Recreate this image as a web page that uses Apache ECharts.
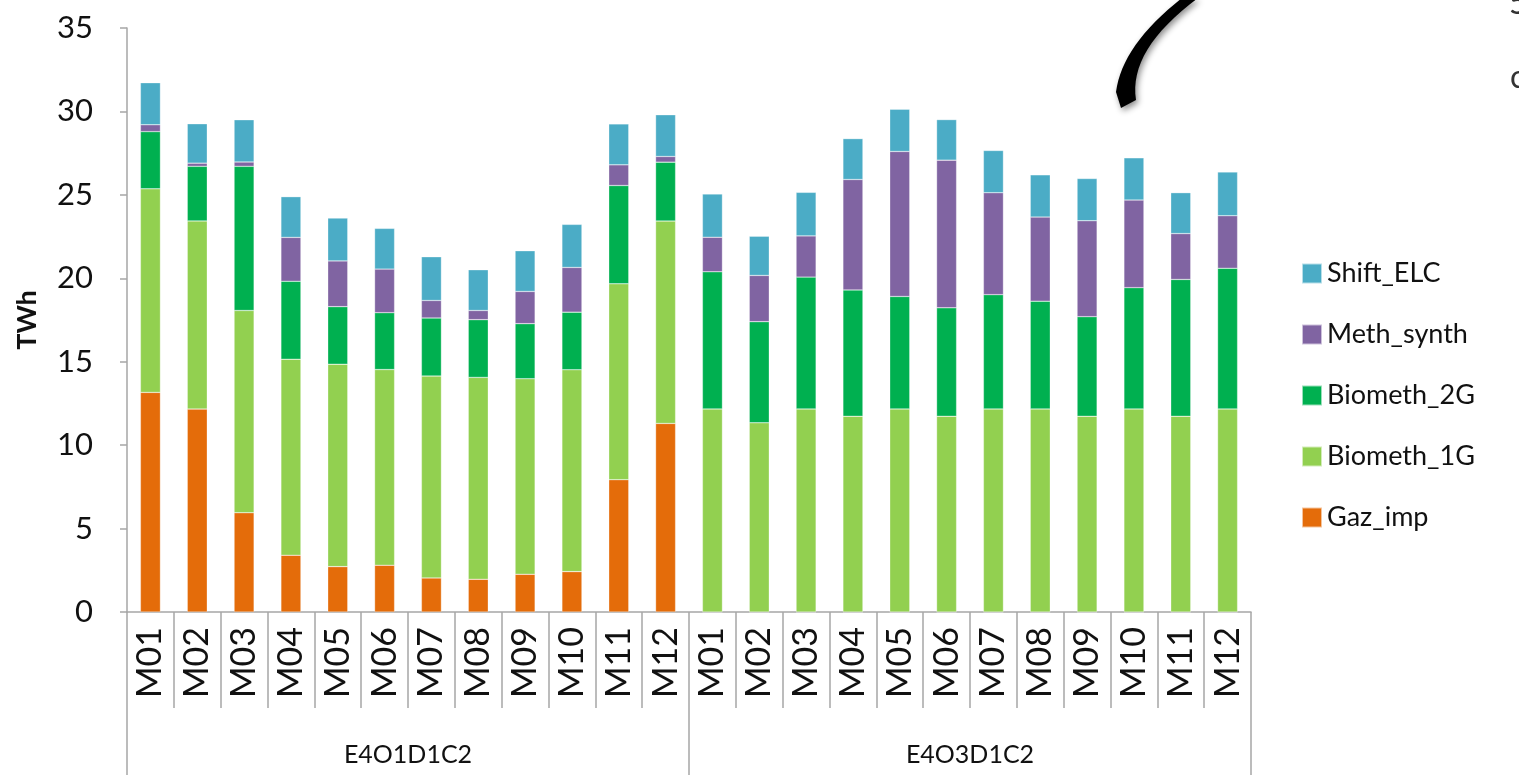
<!DOCTYPE html>
<html>
<head>
<meta charset="utf-8">
<script src="https://cdn.jsdelivr.net/npm/echarts@6/dist/echarts.min.js"></script>
<style>
  html, body { margin: 0; padding: 0; background: #fff; }
  #main { width: 1519px; height: 775px; }
</style>
</head>
<body>
<div id="main"></div>
<script>
// 数据
var months = ['M01','M02','M03','M04','M05','M06','M07','M08','M09','M10','M11','M12',
              'M01','M02','M03','M04','M05','M06','M07','M08','M09','M10','M11','M12'];
var groups = ['E4O1D1C2', 'E4O3D1C2'];
var yTicks = [0, 35, 5]; // min, max, interval

var gazImp = [13.16, 12.16, 5.95, 3.40, 2.72, 2.80, 2.04, 1.96, 2.26, 2.42, 7.93, 11.30,
              0, 0, 0, 0, 0, 0, 0, 0, 0, 0, 0, 0];
var biometh1G = [12.20, 11.28, 12.12, 11.75, 12.13, 11.73, 12.10, 12.10, 11.72, 12.10, 11.74, 12.13,
                 12.17, 11.34, 12.17, 11.73, 12.17, 11.73, 12.17, 12.17, 11.73, 12.17, 11.73, 12.17];
var biometh2G = [3.43, 3.27, 8.64, 4.67, 3.45, 3.41, 3.48, 3.46, 3.30, 3.45, 5.89, 3.53,
                 8.22, 6.06, 7.90, 7.57, 6.74, 6.50, 6.85, 6.46, 5.97, 7.27, 8.20, 8.43];
var methSynth = [0.41, 0.19, 0.26, 2.63, 2.74, 2.61, 1.05, 0.55, 1.93, 2.68, 1.24, 0.34,
                 2.07, 2.77, 2.47, 6.62, 8.69, 8.85, 6.11, 5.04, 5.75, 5.25, 2.75, 3.15];
var shiftELC = [2.52, 2.36, 2.53, 2.44, 2.57, 2.44, 2.62, 2.44, 2.44, 2.58, 2.45, 2.50,
                2.59, 2.35, 2.61, 2.45, 2.53, 2.43, 2.53, 2.53, 2.53, 2.53, 2.45, 2.62];

var FONT = 'Lato, "Open Sans", sans-serif';
var AXIS_COLOR = '#a6a6a6';
var TEXT_COLOR = '#111';

// the curved arrow stroke in the top corner (decoration, not data)
function quad(p0, c, p1, n) {
    var pts = [];
    for (var i = 0; i <= n; i++) {
        var t = i / n, u = 1 - t;
        pts.push([u * u * p0[0] + 2 * u * t * c[0] + t * t * p1[0],
                  u * u * p0[1] + 2 * u * t * c[1] + t * t * p1[1]]);
    }
    return pts;
}
var arrowPts = quad([1182, -2], [1122, 45], [1116, 92], 16)
    .concat([[1121, 108]])
    .concat(quad([1136, 100], [1128, 50], [1198, -2], 16));

var chart = echarts.init(document.getElementById('main'));

function bar(name, data, color) {
    return {
        name: name,
        type: 'bar',
        stack: 'total',
        data: data,
        barWidth: 20,
        itemStyle: { color: color, borderColor: 'rgba(255,255,255,0.6)', borderWidth: 0.5 },
        emphasis: { disabled: true }
    };
}

var option = {
    animation: false,
    backgroundColor: '#fff',
    textStyle: { fontFamily: FONT },
    grid: { left: 127, right: 268, top: 28, bottom: 163, containLabel: false },
    legend: {
        orient: 'vertical',
        left: 1296,
        top: 255,
        itemWidth: 20,
        itemHeight: 20,
        itemGap: 34,
        icon: 'rect',
        textStyle: { fontSize: 27, color: TEXT_COLOR, fontFamily: FONT },
        data: ['Shift_ELC', 'Meth_synth', 'Biometh_2G', 'Biometh_1G', 'Gaz_imp']
    },
    xAxis: [
        {
            type: 'category',
            data: months,
            position: 'bottom',
            axisLine: { lineStyle: { color: AXIS_COLOR, width: 1.5 } },
            axisTick: { show: true, interval: 0, length: 96, lineStyle: { color: AXIS_COLOR, width: 1.5 } },
            axisLabel: { interval: 0, rotate: 90, margin: 15, fontSize: 34, color: TEXT_COLOR, fontFamily: FONT }
        },
        {
            type: 'category',
            data: groups,
            position: 'bottom',
            axisLine: { show: false },
            axisTick: { show: true, interval: 0, length: 165, lineStyle: { color: AXIS_COLOR, width: 1.5 } },
            axisLabel: { interval: 0, margin: 130, fontSize: 25, color: TEXT_COLOR, fontFamily: FONT }
        }
    ],
    yAxis: {
        type: 'value',
        min: yTicks[0],
        max: yTicks[1],
        interval: yTicks[2],
        name: 'TWh',
        nameLocation: 'middle',
        nameGap: 86,
        nameTextStyle: { fontSize: 27, fontWeight: 'bold', color: TEXT_COLOR, fontFamily: FONT },
        axisLine: { show: true, lineStyle: { color: AXIS_COLOR, width: 1.5 } },
        axisTick: { show: true, length: 7, lineStyle: { color: AXIS_COLOR, width: 1.5 } },
        axisLabel: { fontSize: 31, color: TEXT_COLOR, margin: 34, fontFamily: FONT },
        splitLine: { show: false }
    },
    graphic: [
        {
            type: 'polygon',
            shape: { points: arrowPts, smooth: 0 },
            style: { fill: '#000', shadowBlur: 6, shadowColor: 'rgba(0,0,0,0.45)', shadowOffsetX: 2, shadowOffsetY: 3 }
        },
        {
            type: 'text', left: 1509, top: -12,
            style: { text: '5', fontSize: 32, fill: '#333', fontFamily: FONT }
        },
        {
            type: 'text', left: 1510, top: 62,
            style: { text: 'c', fontSize: 32, fill: '#333', fontFamily: FONT }
        }
    ],
    series: [
        bar('Gaz_imp', gazImp, '#e46c0a'),
        bar('Biometh_1G', biometh1G, '#92d050'),
        bar('Biometh_2G', biometh2G, '#00b050'),
        bar('Meth_synth', methSynth, '#8064a2'),
        bar('Shift_ELC', shiftELC, '#4bacc6')
    ]
};

chart.setOption(option);
</script>
</body>
</html>
